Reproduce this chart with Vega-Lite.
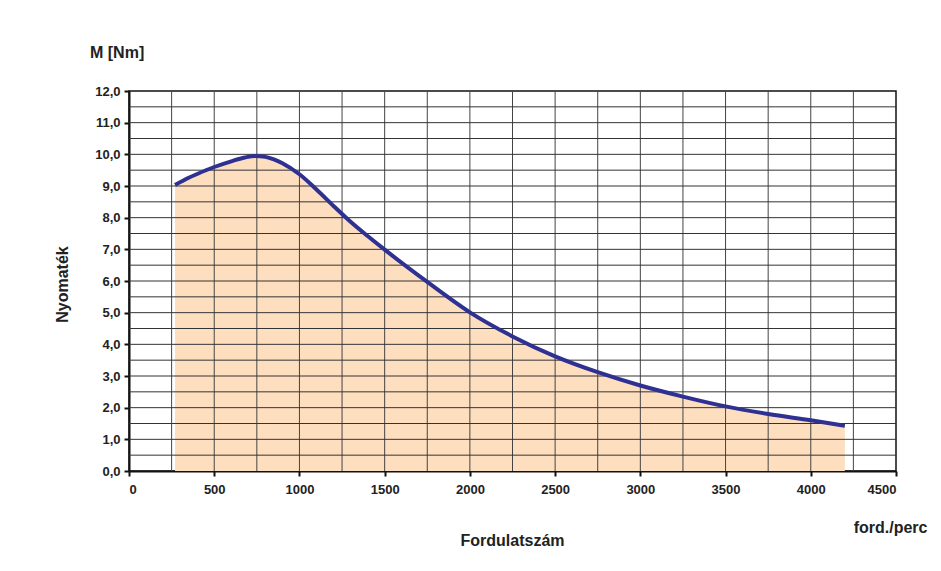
{
  "$schema": "https://vega.github.io/schema/vega-lite/v6.json",
  "width": 767,
  "height": 380,
  "autosize": {"type": "none"},
  "padding": {"left": 129, "top": 91, "right": 45, "bottom": 100},
  "background": "white",
  "config": {
    "font": "Liberation Sans",
    "view": {"stroke": "#111", "strokeWidth": 1.5},
    "axis": {
      "labelFont": "Liberation Sans",
      "labelFontWeight": "bold",
      "labelFontSize": 13,
      "labelColor": "#222",
      "titleFont": "Liberation Sans",
      "titleFontWeight": "bold",
      "titleFontSize": 16,
      "titleColor": "#222",
      "domainColor": "#111",
      "domainWidth": 2,
      "tickColor": "#111",
      "tickWidth": 2,
      "tickSize": 5
    }
  },
  "title": {
    "text": "M [Nm]",
    "anchor": "start",
    "frame": "group",
    "orient": "top",
    "dx": -39,
    "dy": 22,
    "offset": 33,
    "baseline": "alphabetic",
    "font": "Liberation Sans",
    "fontSize": 16,
    "fontWeight": "bold",
    "color": "#222"
  },
  "datasets": {
    "curve": [
      {"rpm": 270, "M": 9.03},
      {"rpm": 350, "M": 9.26},
      {"rpm": 400, "M": 9.38},
      {"rpm": 500, "M": 9.6},
      {"rpm": 600, "M": 9.78},
      {"rpm": 680, "M": 9.9},
      {"rpm": 740, "M": 9.95},
      {"rpm": 800, "M": 9.92},
      {"rpm": 850, "M": 9.84},
      {"rpm": 900, "M": 9.72},
      {"rpm": 1000, "M": 9.37},
      {"rpm": 1100, "M": 8.89},
      {"rpm": 1200, "M": 8.37},
      {"rpm": 1300, "M": 7.87},
      {"rpm": 1400, "M": 7.42},
      {"rpm": 1500, "M": 6.99},
      {"rpm": 1750, "M": 5.97},
      {"rpm": 2000, "M": 5.01},
      {"rpm": 2250, "M": 4.25},
      {"rpm": 2500, "M": 3.62},
      {"rpm": 2750, "M": 3.12},
      {"rpm": 3000, "M": 2.7},
      {"rpm": 3250, "M": 2.35},
      {"rpm": 3500, "M": 2.04},
      {"rpm": 3750, "M": 1.8},
      {"rpm": 4000, "M": 1.6},
      {"rpm": 4200, "M": 1.43}
    ],
    "gx": [
      {"v": 250}, {"v": 500}, {"v": 750}, {"v": 1000}, {"v": 1250}, {"v": 1500},
      {"v": 1750}, {"v": 2000}, {"v": 2250}, {"v": 2500}, {"v": 2750}, {"v": 3000},
      {"v": 3250}, {"v": 3500}, {"v": 3750}, {"v": 4000}, {"v": 4250}
    ],
    "gy": [
      {"v": 0.5}, {"v": 1}, {"v": 1.5}, {"v": 2}, {"v": 2.5}, {"v": 3}, {"v": 3.5},
      {"v": 4}, {"v": 4.5}, {"v": 5}, {"v": 5.5}, {"v": 6}, {"v": 6.5}, {"v": 7},
      {"v": 7.5}, {"v": 8}, {"v": 8.5}, {"v": 9}, {"v": 9.5}, {"v": 10}, {"v": 10.5},
      {"v": 11}, {"v": 11.5}
    ]
  },
  "resolve": {"axis": {"y": "independent", "x": "independent"}},
  "layer": [
    {
      "data": {"name": "curve"},
      "mark": {"type": "area", "color": "#FDDFC0", "interpolate": "monotone"},
      "encoding": {
        "x": {
          "field": "rpm", "type": "quantitative",
          "scale": {"domain": [0, 4500], "nice": false, "zero": true},
          "axis": {
            "values": [0, 500, 1000, 1500, 2000, 2500, 3000, 3500, 4000, 4500],
            "format": "d",
            "grid": false,
            "labelPadding": 7,
            "title": "Fordulatszám",
            "titleX": 383,
            "titleY": 74,
            "titleAlign": "center",
            "titleBaseline": "alphabetic"
          }
        },
        "y": {
          "field": "M", "type": "quantitative",
          "scale": {"domain": [0, 12], "nice": false},
          "axis": {
            "values": [0, 1, 2, 3, 4, 5, 6, 7, 8, 9, 10, 11, 12],
            "labelExpr": "replace(format(datum.value, '.1f'), '.', ',')",
            "grid": false,
            "labelPadding": 4,
            "title": "Nyomaték",
            "titleX": -67,
            "titleY": 193,
            "titleAngle": -90,
            "titleAlign": "center",
            "titleBaseline": "middle"
          }
        }
      }
    },
    {
      "data": {"name": "gx"},
      "mark": {"type": "rule", "color": "#444", "strokeWidth": 1},
      "encoding": {
        "x": {"field": "v", "type": "quantitative", "axis": null}
      }
    },
    {
      "data": {"name": "gy"},
      "mark": {"type": "rule", "color": "#333", "strokeWidth": 1},
      "encoding": {
        "y": {"field": "v", "type": "quantitative", "axis": null}
      }
    },
    {
      "data": {"name": "curve"},
      "mark": {"type": "line", "color": "#2E3192", "strokeWidth": 4, "interpolate": "monotone"},
      "encoding": {
        "x": {"field": "rpm", "type": "quantitative", "axis": null},
        "y": {
          "field": "M", "type": "quantitative",
          "axis": {
            "orient": "right",
            "domain": false,
            "ticks": false,
            "labels": false,
            "grid": false,
            "title": "ford./perc",
            "titleX": 31,
            "titleY": 441,
            "titleAngle": 0,
            "titleAlign": "right",
            "titleBaseline": "alphabetic"
          }
        }
      }
    }
  ]
}
